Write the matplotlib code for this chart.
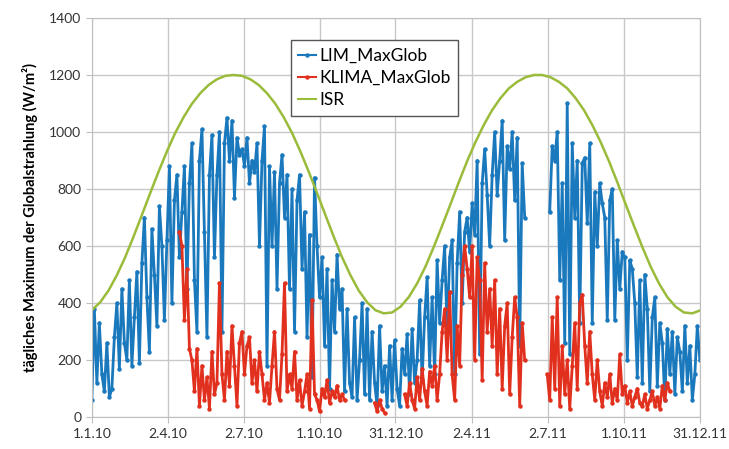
import numpy as np
import matplotlib
matplotlib.use("Agg")
from matplotlib import pyplot as plt

plt.rcParams['font.family'] = ['Lato', 'DejaVu Sans']

nan = np.nan

# x axis: days since 1.1.2010
tick_days = [0, 91, 182, 273, 364, 456, 547, 638, 729]
tick_labels = ['1.1.10', '2.4.10', '2.7.10', '1.10.10', '31.12.10',
               '2.4.11', '2.7.11', '1.10.11', '31.12.11']

# every 3rd day, 30 days per row
lim_days = np.arange(0, 730, 3)
lim_maxglob = [
    60, 380, 120, 330, 150, 90, 260, 70, 100, 280,
    400, 170, 450, 260, 200, 480, 180, 350, 510, 190,
    540, 700, 420, 230, 660, 500, 320, 740, 600, 340,
    620, 880, 400, 760, 850, 560, 720, 880, 450, 820,
    960, 480, 300, 900, 1010, 650, 280, 850, 990, 560,
    850, 1000, 300, 960, 1050, 900, 1040, 770, 980, 920,
    940, 880, 980, 820, 900, 860, 960, 600, 900, 1020,
    180, 880, 600, 860, 450, 820, 920, 700, 850, 450,
    800, 300, 760, 850, 520, 720, 280, 640, 140, 840,
    600, 420, 560, 250, 520, 100, 480, 300, 570, 380,
    450, 90, 380, 120, 70, 350, 60, 200, 400, 80,
    380, 60, 300, 120, 40, 320, 90, 180, 40, 250,
    60, 270, 100, 40, 240, 150, 290, 80, 310, 120,
    200, 410, 130, 350, 490, 180, 420, 150, 550, 330,
    480, 600, 300, 560, 620, 150, 540, 720, 400, 650,
    700, 580, 750, 640, 900, 220, 820, 940, 780, 600,
    850, 1000, 780, 900, 1040, 620, 950, 870, 1000, 760,
    980, 250, 890, 700, nan, nan, nan, nan, nan, nan,
    nan, nan, nan, 720, 950, 900, 1000, 480, 820, 260,
    1100, 220, 960, 700, 900, 330, 890, 910, 680, 960,
    330, 790, 600, 820, 750, 700, 340, 760, 800, 340,
    620, 450, 580, 560, 200, 550, 520, 400, 140, 480,
    120, 500, 380, 90, 350, 420, 110, 330, 260, 60,
    310, 150, 300, 80, 280, 230, 90, 320, 120, 250,
    60, 150, 320, 200,
]

klima_maxglob = [
    nan, nan, nan, nan, nan, nan, nan, nan, nan, nan,
    nan, nan, nan, nan, nan, nan, nan, nan, nan, nan,
    nan, nan, nan, nan, nan, nan, nan, nan, nan, nan,
    nan, nan, nan, nan, nan, 650, 600, 340, 520, 240,
    200, 90, 240, 40, 180, 60, 140, 30, 230, 80,
    120, 470, 150, 60, 230, 110, 320, 180, 40, 260,
    300, 150, 250, 280, 120, 200, 90, 230, 150, 60,
    120, 50, 180, 300, 100, 60, 220, 470, 90, 150,
    100, 230, 60, 130, 40, 90, 150, 30, 410, 80,
    60, 20, 100, 70, 130, 50, 90, 70, 110, 60,
    80, 60, nan, nan, nan, nan, nan, nan, nan, nan,
    nan, nan, nan, 50, 20, 60, 30, 15, nan, nan,
    nan, nan, nan, nan, nan, 80, 40, 120, 60, 30,
    140, 60, 170, 90, 40, 160, 110, 180, 60, 150,
    300, 380, 200, 440, 150, 60, 320, 180, 500, 600,
    520, 420, 600, 200, 560, 480, 130, 540, 300, 450,
    250, 480, 150, 380, 100, 320, 400, 80, 280, 420,
    350, 40, 330, 200, nan, nan, nan, nan, nan, nan,
    nan, nan, 150, 60, 350, 100, 420, 40, 250, 80,
    200, 30, 180, 330, 100, 400, 430, 250, 120, 300,
    150, 60, 200, 90, 40, 120, 70, 150, 50, 100,
    60, 220, 80, 110, 50, 90, 40, 70, 100, 50,
    40, 80, 30, 60, 90, 40, 70, 30, 110, 60,
    120, 90, nan, nan, nan, nan, nan, nan, nan, nan,
    nan, nan, nan, nan,
]

isr_days = np.arange(0, 731, 10)
isr = [
    375, 403, 444, 498, 561, 633, 709, 786, 861, 932,
    997, 1052, 1099, 1136, 1165, 1185, 1197, 1200, 1197, 1185,
    1165, 1136, 1099, 1052, 997, 932, 861, 786, 709, 633,
    561, 498, 444, 403, 375, 364, 367, 387, 421, 469,
    528, 597, 671, 747, 824, 898, 965, 1025, 1077, 1119,
    1153, 1176, 1192, 1200, 1200, 1192, 1176, 1153, 1119, 1077,
    1025, 965, 898, 824, 747, 671, 597, 528, 469, 421,
    387, 367, 364, 375,
]

fig = plt.figure(figsize=(7.29, 4.49), dpi=100)
ax = fig.add_axes([0.126, 0.071, 0.834, 0.889])

ax.plot(lim_days, lim_maxglob, color='#1a78bd', lw=2.0, marker='o', ms=2.2,
        label='LIM_MaxGlob')
ax.plot(lim_days, klima_maxglob, color='#e2301e', lw=2.0, marker='o', ms=2.2,
        label='KLIMA_MaxGlob')
ax.plot(isr_days, isr, color='#9bbb3b', lw=1.8, label='ISR')

ax.set_xlim(0, 729)
ax.set_ylim(0, 1400)
ax.set_xticks(tick_days)
ax.set_xticklabels(tick_labels)
ax.set_yticks(range(0, 1401, 200))
ax.grid(True, color='#c8c8c8', lw=1)
ax.set_axisbelow(True)
for s in ax.spines.values():
    s.set_color('#bfbfbf')
ax.tick_params(colors='#bfbfbf', labelcolor='#333333', labelsize=10, length=4)

ax.set_ylabel('tägliches Maximum der Globalstrahlung (W/m²)', fontsize=10.5,
              fontweight='bold', labelpad=8)

leg = ax.legend(loc='upper left', bbox_to_anchor=(0.327, 0.945), fontsize=12.5,
                fancybox=False, framealpha=1, edgecolor='#555555',
                handlelength=1.0, handletextpad=0.2, borderpad=0.45,
                labelspacing=0.35, borderaxespad=0)
leg.get_frame().set_linewidth(1.0)
for h in leg.legend_handles:
    h.set_linewidth(1.5)

fig.savefig('out.png', dpi=100)
